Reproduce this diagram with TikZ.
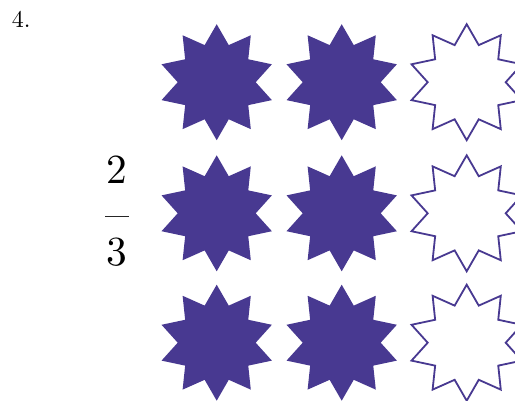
\documentclass[tikz,border=0pt]{standalone}
\usepackage{tikz}
\usepackage{graphicx}
\definecolor{starblue}{RGB}{72,57,145}
\tikzset{
  starfill/.style={fill=starblue},
  starline/.style={draw=starblue, line width=1.8pt, line join=miter, fill=white},
  bigdigit/.style={inner sep=0pt, anchor=base, font=\fontsize{10}{12}\selectfont},
  numlabel/.style={inner sep=0pt, anchor=base west, font=\fontsize{10}{12}\selectfont}
}
\newcommand{\starpath}[3]{%
  \path[#3, shift={(#1,#2)}] (90:58)
    \foreach \k in {1,...,19} { -- ({90+18*\k}:{mod(\k,2)==1 ? 39 : 58}) } -- cycle;}
\begin{document}
\begin{tikzpicture}[x=1pt,y=-1pt]
  \useasboundingbox (0,0) rectangle (515,400);
  \clip (0,0) rectangle (515,400);
  \fill[white] (0,0) rectangle (515,400);
  \node[numlabel] (num) at (11.8,27.3) {\scalebox{2.4}{4.}};
  \foreach \cy in {82.2,213.3,342.7} {
    \starpath{216.7}{\cy}{starfill}
    \starpath{341.7}{\cy}{starfill}
    \starpath{466.7}{\cy}{starline}
  }
  \node[bigdigit] (two) at (117,183.3) {\scalebox{4.14}{2}};
  \node[inner sep=0pt, fill=black!85, minimum width=24pt, minimum height=0.9pt] (bar) at (117,216.7) {};
  \node[bigdigit] (three) at (117,265.5) {\scalebox{4.14}{3}};
\end{tikzpicture}
\end{document}
